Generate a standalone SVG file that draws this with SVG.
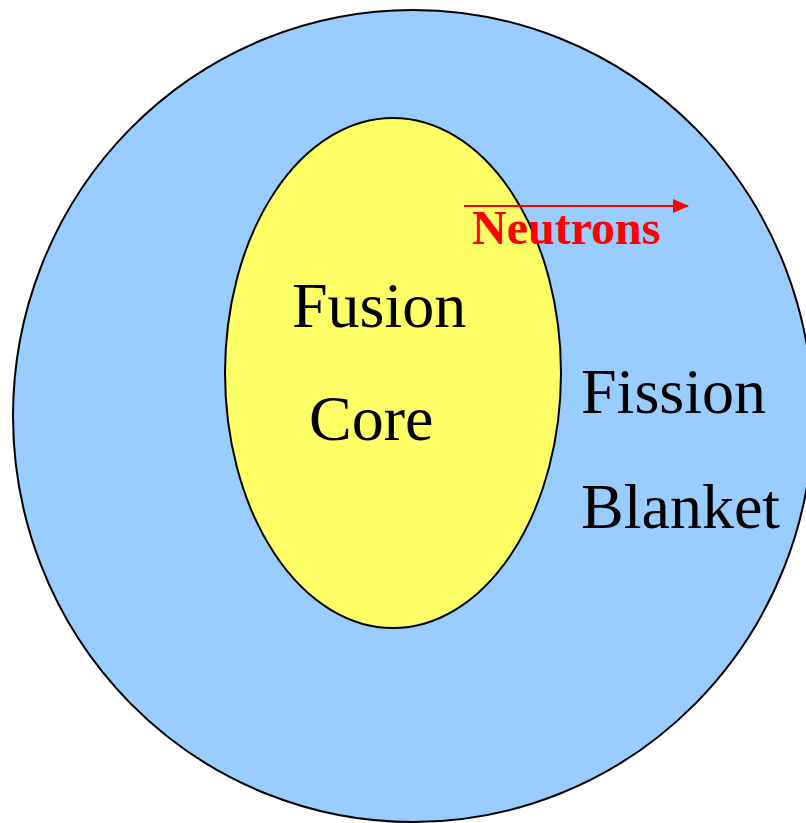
<svg xmlns="http://www.w3.org/2000/svg" width="806" height="823" viewBox="0 0 806 823">
  <style>
    .lbl { font-family: "Liberation Serif", "Times New Roman", serif; font-size: 64px; fill: #000000; }
    .neu { font-family: "Liberation Serif", "Times New Roman", serif; font-size: 48px; font-weight: bold; fill: #FF0000; }
  </style>
  <defs>
    <marker id="arr" markerWidth="16" markerHeight="14" refX="15" refY="7" orient="auto" markerUnits="userSpaceOnUse">
      <path d="M0,0 L16,7 L0,14 Z" fill="#FF0000"/>
    </marker>
  </defs>
  <rect width="806" height="823" fill="#FFFFFF"/>
  <g id="blanket">
    <ellipse cx="413" cy="416" rx="400" ry="406" fill="#99CCFF" stroke="#000000" stroke-width="2"/>
    <text class="lbl" x="581" y="413">Fission</text>
    <text class="lbl" x="581" y="528">Blanket</text>
  </g>
  <g id="core">
    <ellipse cx="393" cy="373" rx="168" ry="255" fill="#FFFF66" stroke="#000000" stroke-width="2"/>
    <text class="lbl" x="292" y="327">Fusion</text>
    <text class="lbl" x="309" y="440">Core</text>
  </g>
  <g id="connectors">
    <line x1="464" y1="206" x2="688" y2="206" stroke="#FF0000" stroke-width="2" marker-end="url(#arr)"/>
    <text class="neu" x="472" y="244">Neutrons</text>
  </g>
</svg>
